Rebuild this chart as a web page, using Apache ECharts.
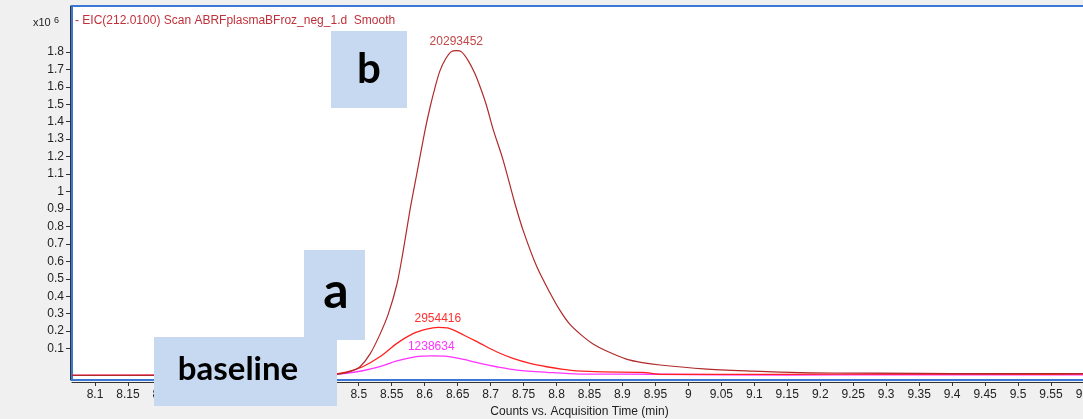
<!DOCTYPE html>
<html>
<head>
<meta charset="utf-8">
<script src="https://cdn.jsdelivr.net/npm/echarts@6/dist/echarts.min.js"></script>
<style>
html,body{margin:0;padding:0;background:#f0f0f0;}
#chart{width:1083px;height:419px;}
</style>
</head>
<body>
<div id="chart"></div>
<script>
// ---- data (counts x10^6 vs acquisition time, min) ----
const bigTimes = [8.065, 8.40, 8.45, 8.472, 8.49, 8.502, 8.517, 8.532, 8.545, 8.558, 8.567, 8.578, 8.588, 8.600, 8.608, 8.616, 8.623, 8.631, 8.640, 8.648, 8.656, 8.666, 8.676, 8.686, 8.694, 8.704, 8.719, 8.737, 8.750, 8.770, 8.790, 8.805, 8.820, 8.840, 8.856, 8.875, 8.906, 8.930, 8.957, 9.023, 9.098, 9.169, 9.230, 9.350, 9.450, 9.600];
const bigValues = [-0.053, -0.053, -0.050, -0.045, -0.028, -0.004, 0.068, 0.180, 0.300, 0.470, 0.650, 0.900, 1.100, 1.340, 1.480, 1.600, 1.690, 1.755, 1.800, 1.807, 1.800, 1.750, 1.677, 1.580, 1.490, 1.355, 1.180, 0.930, 0.770, 0.570, 0.420, 0.320, 0.240, 0.170, 0.125, 0.088, 0.040, 0.020, 0.006, -0.016, -0.029, -0.038, -0.040, -0.042, -0.044, -0.044];

const redTimes = [8.065, 8.45, 8.481, 8.506, 8.532, 8.558, 8.583, 8.603, 8.620, 8.635, 8.659, 8.684, 8.709, 8.734, 8.760, 8.785, 8.810, 8.830, 8.870, 8.930, 8.960, 9.140, 9.300, 9.550, 9.600];
const redValues = [-0.053, -0.050, -0.035, -0.004, 0.053, 0.130, 0.187, 0.212, 0.222, 0.218, 0.178, 0.130, 0.082, 0.044, 0.015, -0.004, -0.019, -0.028, -0.034, -0.036, -0.048, -0.048, -0.045, -0.047, -0.045];

const magTimes = [8.065, 8.45, 8.481, 8.506, 8.532, 8.558, 8.590, 8.610, 8.630, 8.659, 8.684, 8.709, 8.740, 8.785, 8.836, 8.950, 9.150, 9.300, 9.600];
const magValues = [-0.053, -0.050, -0.042, -0.027, -0.004, 0.029, 0.055, 0.058, 0.057, 0.038, 0.015, -0.004, -0.023, -0.036, -0.046, -0.047, -0.052, -0.050, -0.050];

const peakLabels = ['20293452', '2954416', '1238634'];
const peakTimes = [8.648, 8.620, 8.610];

const xTicks = [8.1, 8.15, 8.2, 8.25, 8.3, 8.35, 8.4, 8.45, 8.5, 8.55, 8.6, 8.65, 8.7, 8.75, 8.8, 8.85, 8.9, 8.95, 9, 9.05, 9.1, 9.15, 9.2, 9.25, 9.3, 9.35, 9.4, 9.45, 9.5, 9.55, 9.6];
const yTicks = [0.1, 0.2, 0.3, 0.4, 0.5, 0.6, 0.7, 0.8, 0.9, 1, 1.1, 1.2, 1.3, 1.4, 1.5, 1.6, 1.7, 1.8];

const titleText = '- EIC(212.0100) Scan ABRFplasmaBFroz_neg_1.d  Smooth';
const xAxisName = 'Counts vs. Acquisition Time (min)';
const annotations = ['b', 'a', 'baseline'];

// ---- build ----
function buildData(times, values, peakT, peakLabel, color) {
  return times.map((t, i) => {
    const item = { value: [t, values[i]] };
    if (t === peakT) {
      item.label = { show: true, formatter: peakLabel, position: 'top', distance: 3, color: color,
                     fontFamily: 'Liberation Sans', fontSize: 12 };
    }
    return item;
  });
}

const FONT = 'Liberation Sans';
const chart = echarts.init(document.getElementById('chart'));
const option = {
  backgroundColor: '#f0f0f0',
  animation: false,
  grid: {
    left: 72, right: -4, top: 6, bottom: 39,
    outerBoundsMode: 'none', containLabel: false,
    show: true, backgroundColor: '#ffffff', borderColor: '#3b78d6', borderWidth: 2
  },
  xAxis: {
    type: 'value', min: 8.0651, max: 9.6046,
    offset: 2,
    name: xAxisName, nameLocation: 'middle', nameGap: 24,
    nameTextStyle: { fontFamily: FONT, fontSize: 12, color: '#222' },
    axisLine: { show: true, onZero: false, lineStyle: { color: '#333', width: 1 } },
    axisTick: { show: true, length: 4, lineStyle: { color: '#333' }, customValues: xTicks },
    axisLabel: { customValues: xTicks, fontFamily: FONT, fontSize: 12, color: '#222', margin: 7,
                 formatter: v => String(v) },
    splitLine: { show: false }
  },
  yAxis: {
    type: 'value', min: -0.080, max: 2.063,
    offset: 2,
    axisLine: { show: true, onZero: false, lineStyle: { color: '#333', width: 1 } },
    axisTick: { show: true, length: 4, lineStyle: { color: '#333' }, customValues: yTicks },
    axisLabel: { customValues: yTicks, fontFamily: FONT, fontSize: 12, color: '#222', margin: 6,
                 formatter: v => String(v) },
    splitLine: { show: false }
  },
  series: [
    {
      type: 'line', name: 'mag', data: buildData(magTimes, magValues, peakTimes[2], peakLabels[2], '#ff33ff'),
      symbol: 'circle', symbolSize: 0, showSymbol: true, smooth: 0.3,
      lineStyle: { color: '#ff33ff', width: 1.3 }, itemStyle: { color: '#ff33ff' }, z: 2
    },
    {
      type: 'line', name: 'red', data: buildData(redTimes, redValues, peakTimes[1], peakLabels[1], '#ff3030'),
      symbol: 'circle', symbolSize: 0, showSymbol: true, smooth: 0.3,
      lineStyle: { color: '#ff2020', width: 1.3 }, itemStyle: { color: '#ff2020' }, z: 3
    },
    {
      type: 'line', name: 'big', data: buildData(bigTimes, bigValues, peakTimes[0], peakLabels[0], '#c04848'),
      symbol: 'circle', symbolSize: 0, showSymbol: true, smooth: 0.3,
      lineStyle: { color: '#b02a2a', width: 1.2 }, itemStyle: { color: '#b02a2a' }, z: 4
    }
  ],
  graphic: [
    { type: 'text', left: 75, top: 15, z: 10,
      style: { text: titleText, font: '12px "Liberation Sans"', fill: '#c0303a' } },
    { type: 'text', left: 33, top: 16, z: 10,
      style: { text: '{a|x10} {s|6}', rich: {
        a: { font: '11px "Liberation Sans"', fill: '#222' },
        s: { font: '9px "Liberation Sans"', fill: '#222', verticalAlign: 'top', padding: [0,0,4,0] } } } },
    { type: 'rect', shape: { x: 331, y: 31, width: 76, height: 77 }, style: { fill: '#c6d9f0' }, z: 20 },
    { type: 'text', x: 369, y: 69, z: 21,
      style: { text: annotations[0], font: 'bold 42px Lato', fill: '#000', align: 'center', verticalAlign: 'middle' } },
    { type: 'rect', shape: { x: 304, y: 250, width: 61, height: 90 }, style: { fill: '#c6d9f0' }, z: 20 },
    { type: 'rect', shape: { x: 154, y: 337, width: 183, height: 69 }, style: { fill: '#c6d9f0' }, z: 20 },
    { type: 'text', x: 336, y: 292, z: 21,
      style: { text: annotations[1], font: 'bold 50px Lato', fill: '#000', align: 'center', verticalAlign: 'middle' } },
    { type: 'text', x: 238, y: 369, z: 21,
      style: { text: annotations[2], font: 'bold 33px Lato', fill: '#000', align: 'center', verticalAlign: 'middle' } }
  ]
};
chart.setOption(option);
</script>
</body>
</html>
